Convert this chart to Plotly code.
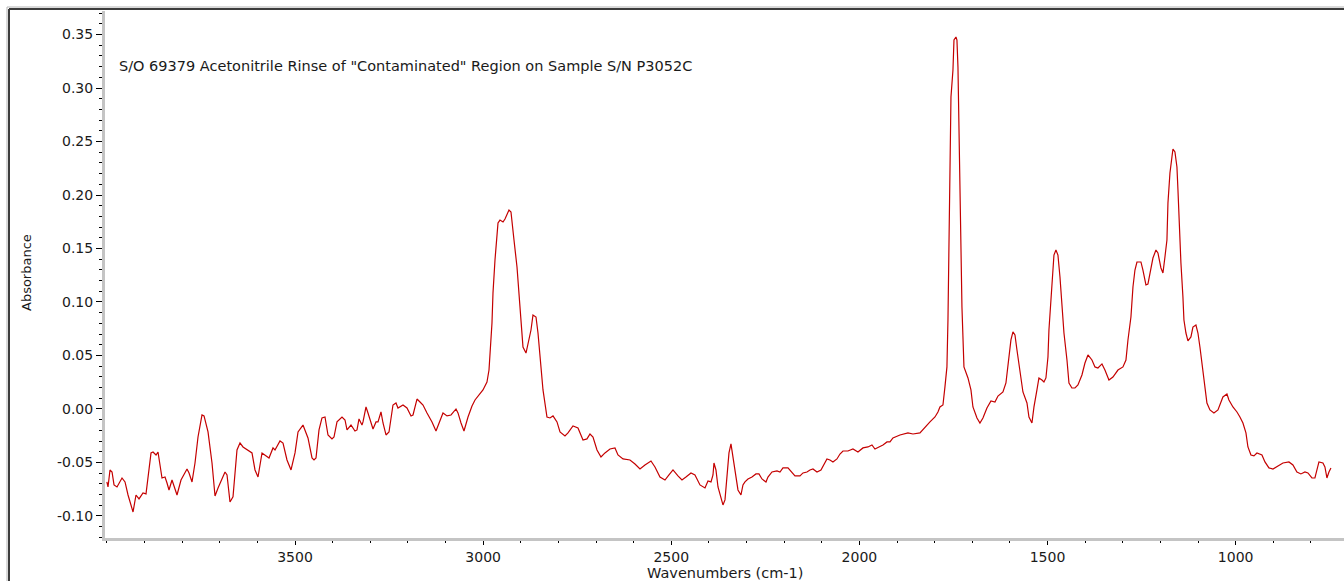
import plotly.graph_objects as go

# ---------------------------------------------------------------- text
SPECTRUM_TITLE = 'S/O 69379 Acetonitrile Rinse of "Contaminated" Region on Sample S/N P3052C'
X_TITLE = "Wavenumbers (cm-1)"
Y_TITLE = "Absorbance"

# ---------------------------------------------------------------- spectrum (cm-1, absorbance)
wavenumber = [
    4000.0, 3997.0, 3991.7, 3986.3, 3981.0, 3973.1, 3959.8, 3951.8, 3943.8, 3933.2,
    3930.5, 3922.6, 3914.6, 3904.0, 3896.0, 3882.7, 3877.4, 3869.4, 3864.1, 3853.5,
    3845.5, 3840.2, 3834.9, 3826.9, 3821.6, 3813.6, 3803.0, 3787.0, 3781.7, 3773.7,
    3765.8, 3757.8, 3747.2, 3741.8, 3731.2, 3720.6, 3712.6, 3704.6, 3686.0, 3680.7,
    3672.8, 3664.8, 3654.2, 3646.2, 3638.2, 3624.9, 3614.3, 3606.3, 3598.3, 3587.7,
    3579.7, 3569.1, 3558.5, 3553.2, 3539.9, 3531.9, 3521.3, 3510.6, 3500.0, 3492.0,
    3478.8, 3465.5, 3454.8, 3449.5, 3444.2, 3436.2, 3428.3, 3420.3, 3412.3, 3401.7,
    3396.4, 3388.4, 3375.1, 3367.1, 3361.8, 3351.2, 3340.6, 3335.2, 3329.9, 3322.0,
    3319.3, 3311.3, 3306.0, 3298.0, 3292.7, 3284.7, 3279.4, 3271.5, 3266.1, 3258.2,
    3250.2, 3239.6, 3231.6, 3226.3, 3213.0, 3202.4, 3191.7, 3186.4, 3175.8, 3167.8,
    3159.8, 3149.2, 3135.9, 3125.3, 3117.3, 3106.7, 3096.0, 3085.4, 3072.1, 3066.8,
    3058.8, 3050.9, 3040.2, 3029.6, 3021.6, 3008.4, 3000.4, 2989.8, 2984.4, 2976.5,
    2973.8, 2968.5, 2963.2, 2960.5, 2955.2, 2947.2, 2941.9, 2936.6, 2931.3, 2926.0,
    2923.3, 2918.0, 2910.0, 2904.7, 2899.4, 2894.1, 2886.1, 2880.8, 2872.8, 2867.5,
    2859.5, 2854.2, 2846.2, 2840.9, 2830.3, 2822.3, 2814.3, 2803.7, 2795.7, 2782.5,
    2774.5, 2761.2, 2747.9, 2734.6, 2724.0, 2716.0, 2708.0, 2697.4, 2686.8, 2676.2,
    2662.9, 2649.6, 2641.6, 2628.3, 2609.7, 2596.4, 2583.1, 2569.9, 2553.9, 2543.3,
    2530.0, 2516.7, 2506.1, 2495.4, 2482.2, 2471.5, 2460.9, 2447.6, 2437.0, 2423.7,
    2410.4, 2402.4, 2394.4, 2389.1, 2386.5, 2381.2, 2375.8, 2367.9, 2362.6, 2357.2,
    2351.9, 2346.6, 2341.3, 2336.0, 2328.0, 2322.7, 2314.7, 2309.4, 2304.1, 2296.1,
    2285.5, 2274.9, 2266.9, 2258.9, 2248.3, 2243.0, 2232.3, 2219.0, 2211.1, 2203.1,
    2189.8, 2179.2, 2171.2, 2157.9, 2149.9, 2139.3, 2131.3, 2123.4, 2112.7, 2102.1,
    2094.1, 2086.2, 2078.2, 2070.2, 2059.6, 2051.6, 2043.6, 2030.4, 2017.1, 2003.8,
    1990.5, 1977.2, 1966.6, 1958.6, 1948.0, 1937.3, 1926.7, 1918.7, 1910.8, 1892.2,
    1870.9, 1857.6, 1839.0, 1825.7, 1812.4, 1799.1, 1791.2, 1785.9, 1777.9, 1772.6,
    1767.3, 1764.6, 1761.9, 1759.3, 1756.6, 1751.3, 1748.6, 1743.3, 1740.7, 1738.0,
    1735.4, 1732.7, 1730.0, 1727.4, 1722.1, 1716.8, 1711.4, 1703.5, 1698.2, 1687.5,
    1679.6, 1671.6, 1661.0, 1650.3, 1639.7, 1631.7, 1618.4, 1610.5, 1605.1, 1597.2,
    1591.9, 1586.5, 1581.2, 1573.2, 1565.3, 1554.6, 1549.3, 1541.4, 1536.0, 1528.1,
    1522.8, 1514.8, 1509.5, 1504.2, 1498.8, 1496.2, 1490.9, 1485.5, 1482.9, 1477.6,
    1472.3, 1466.9, 1461.6, 1456.3, 1448.3, 1443.0, 1435.1, 1427.1, 1419.1, 1408.5,
    1400.5, 1392.5, 1381.9, 1373.9, 1366.0, 1355.3, 1347.4, 1336.7, 1326.1, 1312.8,
    1299.5, 1291.5, 1286.2, 1278.3, 1272.9, 1267.6, 1262.3, 1251.7, 1246.4, 1238.4,
    1233.1, 1227.8, 1219.8, 1211.8, 1206.5, 1198.5, 1193.2, 1187.9, 1182.6, 1179.9,
    1174.6, 1169.3, 1166.6, 1161.3, 1156.0, 1153.3, 1150.7, 1145.4, 1140.1, 1137.4,
    1132.1, 1126.8, 1118.8, 1113.5, 1105.5, 1100.2, 1094.9, 1086.9, 1081.6, 1076.3,
    1068.3, 1057.7, 1047.0, 1039.1, 1033.8, 1023.1, 1017.8, 1007.2, 996.5, 988.6,
    980.6, 972.6, 967.3, 959.3, 951.4, 943.4, 930.1, 922.1, 911.5, 900.9,
    887.6, 874.3, 858.4, 847.7, 837.1, 826.5, 815.8, 807.9, 797.2, 789.3,
    778.6, 768.0, 762.7, 757.4, 752.0, 746.7,
]

absorbance = [
    -0.0682, -0.0729, -0.0570, -0.0589, -0.0710, -0.0729, -0.0645, -0.0682, -0.0804, -0.0953,
    -0.0963, -0.0804, -0.0841, -0.0785, -0.0794, -0.0411, -0.0402, -0.0430, -0.0402, -0.0645,
    -0.0636, -0.0692, -0.0757, -0.0664, -0.0729, -0.0804, -0.0664, -0.0561, -0.0598, -0.0682,
    -0.0505, -0.0262, -0.0056, -0.0065, -0.0215, -0.0505, -0.0813, -0.0738, -0.0589, -0.0617,
    -0.0869, -0.0822, -0.0383, -0.0318, -0.0355, -0.0383, -0.0411, -0.0570, -0.0636, -0.0411,
    -0.0430, -0.0458, -0.0364, -0.0383, -0.0299, -0.0318, -0.0477, -0.0570, -0.0411, -0.0215,
    -0.0150, -0.0271, -0.0458, -0.0477, -0.0458, -0.0196, -0.0084, -0.0075, -0.0243, -0.0280,
    -0.0262, -0.0121, -0.0075, -0.0103, -0.0196, -0.0150, -0.0206, -0.0196, -0.0093, -0.0150,
    -0.0121, 0.0019, -0.0037, -0.0131, -0.0187, -0.0121, -0.0121, -0.0028, -0.0131, -0.0243,
    -0.0215, 0.0037, 0.0056, 0.0009, 0.0037, 0.0009, -0.0065, -0.0056, 0.0093, 0.0065,
    0.0037, -0.0037, -0.0121, -0.0206, -0.0131, -0.0037, -0.0065, -0.0056, 0.0000, -0.0037,
    -0.0131, -0.0206, -0.0075, 0.0028, 0.0084, 0.0150, 0.0178, 0.0252, 0.0364, 0.0804,
    0.1084, 0.1393, 0.1579, 0.1738, 0.1766, 0.1748, 0.1776, 0.1813, 0.1860, 0.1841,
    0.1738, 0.1579, 0.1327, 0.1047, 0.0804, 0.0579, 0.0523, 0.0617, 0.0738, 0.0879,
    0.0860, 0.0710, 0.0430, 0.0178, -0.0075, -0.0084, -0.0065, -0.0121, -0.0215, -0.0252,
    -0.0224, -0.0159, -0.0178, -0.0290, -0.0280, -0.0234, -0.0262, -0.0383, -0.0449, -0.0411,
    -0.0374, -0.0364, -0.0430, -0.0467, -0.0477, -0.0514, -0.0561, -0.0523, -0.0486, -0.0542,
    -0.0636, -0.0664, -0.0617, -0.0570, -0.0626, -0.0664, -0.0636, -0.0598, -0.0617, -0.0710,
    -0.0738, -0.0673, -0.0682, -0.0617, -0.0505, -0.0570, -0.0729, -0.0822, -0.0897, -0.0850,
    -0.0636, -0.0411, -0.0327, -0.0449, -0.0636, -0.0757, -0.0804, -0.0710, -0.0682, -0.0654,
    -0.0636, -0.0607, -0.0607, -0.0654, -0.0682, -0.0636, -0.0589, -0.0579, -0.0589, -0.0551,
    -0.0551, -0.0589, -0.0626, -0.0626, -0.0598, -0.0589, -0.0570, -0.0561, -0.0589, -0.0570,
    -0.0523, -0.0467, -0.0477, -0.0495, -0.0467, -0.0421, -0.0393, -0.0393, -0.0374, -0.0402,
    -0.0364, -0.0355, -0.0336, -0.0374, -0.0355, -0.0336, -0.0308, -0.0308, -0.0271, -0.0243,
    -0.0224, -0.0234, -0.0224, -0.0168, -0.0121, -0.0075, -0.0028, 0.0019, 0.0037, 0.0206,
    0.0393, 0.0832, 0.1514, 0.2299, 0.2916, 0.3168, 0.3449, 0.3477, 0.3449, 0.3196,
    0.2701, 0.2019, 0.1673, 0.0953, 0.0393, 0.0336, 0.0290, 0.0178, 0.0019, -0.0084,
    -0.0131, -0.0084, 0.0009, 0.0075, 0.0065, 0.0121, 0.0159, 0.0243, 0.0430, 0.0645,
    0.0720, 0.0692, 0.0551, 0.0336, 0.0159, 0.0056, -0.0075, -0.0131, 0.0019, 0.0178,
    0.0290, 0.0271, 0.0252, 0.0290, 0.0486, 0.0738, 0.1019, 0.1271, 0.1439, 0.1486,
    0.1439, 0.1234, 0.0953, 0.0710, 0.0458, 0.0243, 0.0196, 0.0196, 0.0224, 0.0318,
    0.0430, 0.0505, 0.0458, 0.0393, 0.0383, 0.0421, 0.0364, 0.0271, 0.0299, 0.0364,
    0.0393, 0.0458, 0.0645, 0.0860, 0.1140, 0.1299, 0.1374, 0.1374, 0.1299, 0.1159,
    0.1168, 0.1271, 0.1411, 0.1486, 0.1458, 0.1318, 0.1271, 0.1421, 0.1579, 0.1925,
    0.2206, 0.2355, 0.2430, 0.2402, 0.2262, 0.2047, 0.1766, 0.1364, 0.1047, 0.0832,
    0.0710, 0.0636, 0.0673, 0.0766, 0.0785, 0.0710, 0.0579, 0.0364, 0.0206, 0.0056,
    -0.0009, -0.0037, -0.0009, 0.0065, 0.0112, 0.0140, 0.0084, 0.0019, -0.0028, -0.0075,
    -0.0131, -0.0224, -0.0355, -0.0430, -0.0439, -0.0411, -0.0430, -0.0495, -0.0551, -0.0561,
    -0.0533, -0.0505, -0.0495, -0.0523, -0.0589, -0.0607, -0.0589, -0.0598, -0.0645, -0.0645,
    -0.0495, -0.0505, -0.0542, -0.0645, -0.0589, -0.0551,
]

# ---------------------------------------------------------------- axes
x_tick_values = [3500, 3000, 2500, 2000, 1500, 1000]
y_tick_values = [0.35, 0.30, 0.25, 0.20, 0.15, 0.10, 0.05, 0.00, -0.05, -0.10]
x_range = [4005, 712]          # wavenumbers run high -> low
y_range = [-0.1206, 0.372]

W, H = 1344, 581
M_L, M_R, M_T, M_B = 105, 0, 11, 43
PLOT_W = W - M_L - M_R
PLOT_H = H - M_T - M_B


def paper_x(px):
    """Pixel column -> paper x coordinate."""
    return (px - M_L) / PLOT_W


def paper_y(py):
    """Pixel row -> paper y coordinate."""
    return (H - M_B - py) / PLOT_H


FONT = "DejaVu Sans, Liberation Sans, Arial, sans-serif"
TEXT_COLOR = "#1a1a1a"
AXIS_COLOR = "#c4c4c4"
LINE_COLOR = "#c40000"

fig = go.Figure()
fig.add_trace(
    go.Scatter(
        x=wavenumber,
        y=absorbance,
        mode="lines",
        line=dict(color=LINE_COLOR, width=1.2),
        hoverinfo="x+y",
        showlegend=False,
    )
)

fig.update_xaxes(
    range=x_range,
    tickmode="array",
    tickvals=x_tick_values,
    ticktext=[str(v) for v in x_tick_values],
    ticks="outside",
    ticklen=4,
    tickwidth=1,
    tickcolor="#000000",
    minor=dict(dtick=100, tick0=0, ticks="outside", ticklen=2, tickwidth=1, tickcolor="#000000"),
    showline=True,
    linecolor=AXIS_COLOR,
    linewidth=3,
    showgrid=False,
    zeroline=False,
    tickfont=dict(family=FONT, size=14, color=TEXT_COLOR),
)
fig.update_yaxes(
    range=y_range,
    tickmode="array",
    tickvals=y_tick_values,
    ticktext=[f"{v:.2f}" for v in y_tick_values],
    ticks="outside",
    ticklen=6,
    tickwidth=1,
    tickcolor="#000000",
    minor=dict(dtick=0.01, tick0=0, ticks="outside", ticklen=3, tickwidth=1, tickcolor="#000000"),
    showline=True,
    linecolor=AXIS_COLOR,
    linewidth=3,
    showgrid=False,
    zeroline=False,
    tickfont=dict(family=FONT, size=14, color=TEXT_COLOR),
)

# window frame along the top and left edges
frame_x = paper_x(9)
frame_top = paper_y(9)
shapes = [
    dict(type="line", xref="paper", yref="paper", x0=frame_x, x1=frame_x,
         y0=frame_top, y1=paper_y(H + 5), line=dict(color="#3c3c3c", width=2)),
    dict(type="line", xref="paper", yref="paper", x0=frame_x, x1=paper_x(W + 5),
         y0=frame_top, y1=frame_top, line=dict(color="#3c3c3c", width=2)),
    dict(type="line", xref="paper", yref="paper", x0=paper_x(7), x1=paper_x(7),
         y0=paper_y(7), y1=paper_y(H + 5), line=dict(color="#b4b4b4", width=1)),
    dict(type="line", xref="paper", yref="paper", x0=paper_x(7), x1=paper_x(W + 5),
         y0=paper_y(7), y1=paper_y(7), line=dict(color="#b4b4b4", width=1)),
]

annotations = [
    dict(text=SPECTRUM_TITLE, xref="paper", yref="paper", x=paper_x(117), y=paper_y(66),
         xanchor="left", yanchor="middle", showarrow=False,
         font=dict(family=FONT, size=14.5, color=TEXT_COLOR)),
    dict(text=X_TITLE, xref="paper", yref="paper", x=0.5, y=paper_y(573),
         xanchor="center", yanchor="middle", showarrow=False,
         font=dict(family=FONT, size=14.5, color=TEXT_COLOR)),
    dict(text=Y_TITLE, xref="paper", yref="paper", x=paper_x(26), y=paper_y(273),
         xanchor="center", yanchor="middle", textangle=-90, showarrow=False,
         font=dict(family=FONT, size=13, color=TEXT_COLOR)),
]

fig.update_layout(
    width=W,
    height=H,
    margin=dict(l=M_L, r=M_R, t=M_T, b=M_B, pad=0),
    paper_bgcolor="#ffffff",
    plot_bgcolor="#ffffff",
    shapes=shapes,
    annotations=annotations,
    showlegend=False,
)

fig.write_html("out.html", config={"displayModeBar": False})
